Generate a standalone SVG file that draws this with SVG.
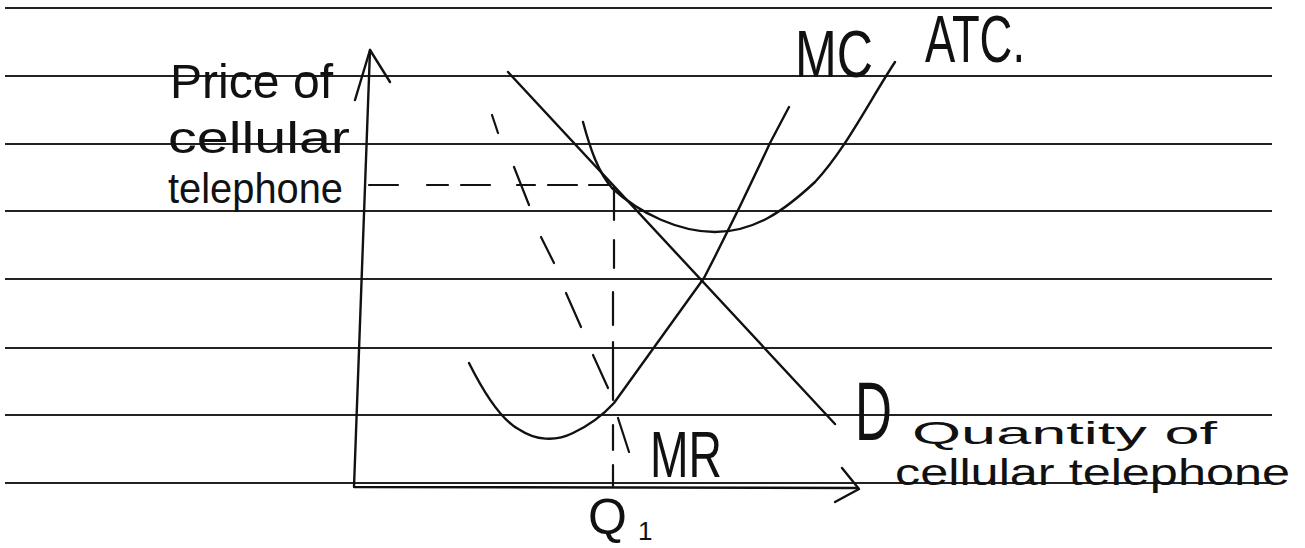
<svg xmlns="http://www.w3.org/2000/svg" width="1305" height="548" viewBox="0 0 1305 548">
<style>
.rule{stroke:#222;stroke-width:1.8;fill:none}
.ink{stroke:#111;stroke-width:2.4;fill:none;stroke-linecap:round;stroke-linejoin:round}
.dash{stroke:#111;stroke-width:2.2;fill:none;stroke-linecap:round}
.t{font-family:"Liberation Sans",Arial,sans-serif;fill:#111}
</style>
<rect width="1305" height="548" fill="#fff"/>
<g id="ruled-lines">
<line class="rule" x1="5" y1="8" x2="1272" y2="8"/>
<line class="rule" x1="5" y1="76" x2="1272" y2="76"/>
<line class="rule" x1="5" y1="144" x2="1272" y2="144"/>
<line class="rule" x1="5" y1="211" x2="1272" y2="211"/>
<line class="rule" x1="5" y1="279" x2="1272" y2="279"/>
<line class="rule" x1="5" y1="348" x2="1272" y2="348"/>
<line class="rule" x1="5" y1="415" x2="1272" y2="415"/>
<line class="rule" x1="5" y1="483" x2="1272" y2="483"/>
</g>
<g id="axes">
<path class="ink" d="M370,50 L354,487 L858,488"/>
<path class="ink" d="M355,100 L370,50 L390,82"/>
<path class="ink" d="M842,468 L859,489 L835,502"/>
</g>
<g id="connectors">
<path id="demand" class="ink" d="M508,72 L835,424"/>
<path id="atc" class="ink" d="M583,122 C590,148 598,172 612,188 C640,214 680,232 715,232 C755,232 785,210 815,182 C845,150 870,100 895,62"/>
<path id="mc" class="ink" d="M469,363 C480,385 500,420 520,430 C535,440 555,442 573,433 C590,425 603,415 614,403 L650,353 L704,278 C720,247 745,197 770,143 L789,107"/>
<path id="mr" class="dash" d="M492,115 L498,133 M514,167 L529,205 M541,237 L554,263 M566,293 L581,327 M593,355 L608,388 M618,418 L629,452"/>
<path id="price-guide" class="dash" d="M369,185 L398,185 M427,185 L448,185 M461,185 L490,185 M517,185 L535,185 M548,185 L577,185 M589,185 L610,185"/>
<path id="q1-guide" class="dash" d="M614,188 L614,220 M614,240 L614,268 M613,292 L613,325 M613,342 L613,400 M613,425 L613,450 M613,465 L613,486"/>
</g>
<g id="label-price"><text class="t" font-size="48" x="170" y="98" textLength="163" lengthAdjust="spacingAndGlyphs">Price of</text>
<text class="t" font-size="44" x="168" y="153" textLength="182" lengthAdjust="spacingAndGlyphs">cellular</text>
<text class="t" font-size="42" x="168" y="203" textLength="175" lengthAdjust="spacingAndGlyphs">telephone</text></g>
<g id="label-mc-atc"><text class="t" font-size="66" x="795" y="77" textLength="78" lengthAdjust="spacingAndGlyphs">MC</text>
<text class="t" font-size="66" x="925" y="62" textLength="100" lengthAdjust="spacingAndGlyphs">ATC.</text></g>
<g id="label-d"><text class="t" font-size="84" x="855" y="440" textLength="37" lengthAdjust="spacingAndGlyphs">D</text></g>
<g id="label-mr"><text class="t" font-size="64" x="650" y="477" textLength="72" lengthAdjust="spacingAndGlyphs">MR</text></g>
<g id="label-q1"><text class="t" font-size="50" x="588" y="534">Q</text><text class="t" font-size="26" x="638" y="540">1</text></g>
<g id="label-quantity"><text class="t" font-size="32" x="912" y="444" textLength="305" lengthAdjust="spacingAndGlyphs">Quantity of</text>
<text class="t" font-size="36" x="895" y="485" textLength="395" lengthAdjust="spacingAndGlyphs">cellular telephone</text></g>
</svg>
